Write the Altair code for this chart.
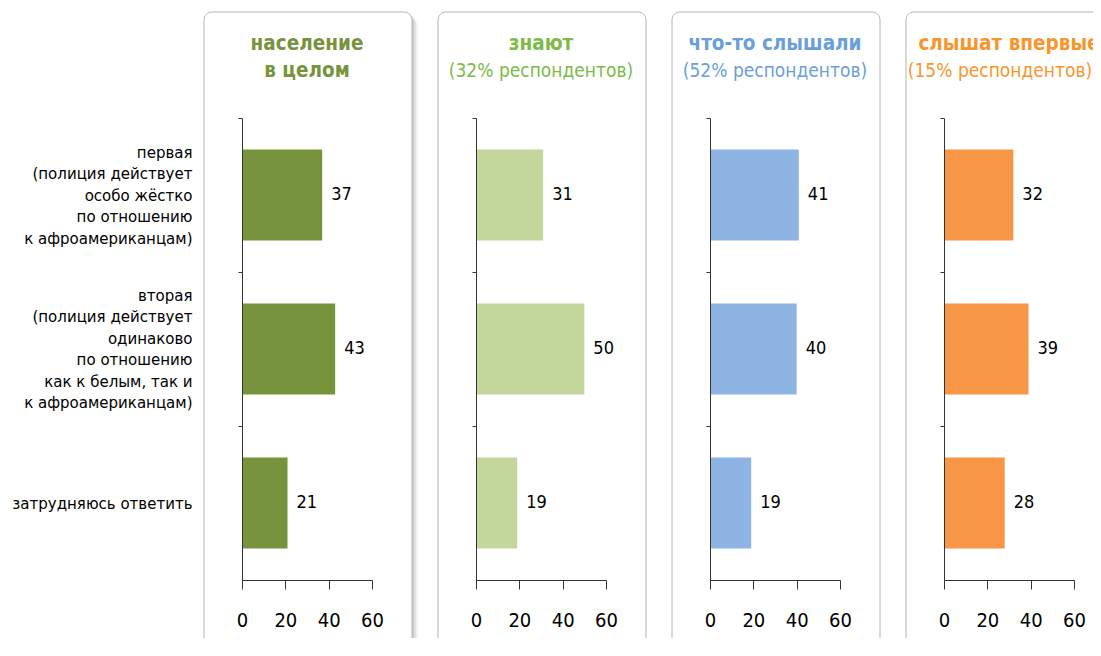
import altair as alt
import pandas as pd

# ---- data ----
categories = [
    "первая\n(полиция действует\nособо жёстко\nпо отношению\nк афроамериканцам)",
    "вторая\n(полиция действует\nодинаково\nпо отношению\nкак к белым, так и\nк афроамериканцам)",
    "затрудняюсь ответить",
]
title_line1 = ["население", "знают", "что-то слышали", "слышат впервые"]
title_line2 = ["в целом", "(32% респондентов)", "(52% респондентов)", "(15% респондентов)"]
line2_bold = [True, False, False, False]
values_total = [37, 43, 21]
values_know = [31, 50, 19]
values_heard = [41, 40, 19]
values_first = [32, 39, 28]
all_values = [values_total, values_know, values_heard, values_first]
x_ticks = [0, 20, 40, 60]

bar_colors = ["#77933c", "#c3d69b", "#8eb4e3", "#f79646"]
title_colors = ["#77933c", "#7cbb46", "#6a9fd8", "#f7962e"]

FONT = "Liberation Sans Narrow, DejaVu Sans Condensed, Roboto, sans-serif"
W, H = 130, 462
STEP = H / 3
LH = 21.5
BOX_TOP = -106
BOX_BOTTOM = 560
PAD_LEFT, PAD_TOP = 234, 110
SVG_W, SVG_H = 1085, 630


def n_lines(s):
    return s.count("\n") + 1


def panel(i):
    df = pd.DataFrame({"cat": categories, "value": all_values[i]})
    show = i == 0
    label_offset = {
        "condition": [
            {"test": "indexof(datum.value, 'первая') == 0",
             "value": STEP / 2 - (n_lines(categories[0]) - 1) * LH / 2},
            {"test": "indexof(datum.value, 'вторая') == 0",
             "value": STEP / 2 - (n_lines(categories[1]) - 1) * LH / 2},
        ],
        "value": STEP / 2,
    }
    axis_kw = dict(
        title=None, labels=show, domainColor="#333", tickColor="#333",
        tickSize=4, tickOffset=-STEP / 2, labelOffset=label_offset,
        labelFont=FONT, labelFontSize=16.7, labelColor="#000",
        labelAlign="right", labelBaseline="middle", labelLineHeight=LH,
        labelPadding=46, labelLimit=400, grid=False, zindex=1,
    )
    if show:
        axis_kw["labelExpr"] = "split(datum.label, '\\n')"
    y = alt.Y("cat:N", sort=categories,
              scale=alt.Scale(paddingInner=0.41, paddingOuter=0.205),
              axis=alt.Axis(**axis_kw))
    x = alt.X("value:Q", scale=alt.Scale(domain=[0, 60], nice=False),
              axis=alt.Axis(title=None, values=x_ticks, grid=False, zindex=1,
                            domainColor="#333", tickColor="#333", tickSize=9,
                            labelFont=FONT, labelFontSize=20, labelColor="#000",
                            labelPadding=21, labelFlush=False))

    one = pd.DataFrame({"line1": [title_line1[i]], "line2": [title_line2[i]]})
    left = -38
    right = 170
    tx1 = W / 2
    tx2 = W / 2 if i < 3 else 56
    layers = []
    if i == 0:
        for k, op in [(6, 0.05), (4, 0.07), (2, 0.09)]:
            layers.append(
                alt.Chart(one).mark_rect(cornerRadius=8, fill="#000", opacity=op)
                .encode(x=alt.value(left + k), x2=alt.value(right + k),
                        y=alt.value(BOX_TOP + k), y2=alt.value(BOX_BOTTOM))
            )
    layers.append(
        alt.Chart(one).mark_rect(cornerRadius=8, fill="white", stroke="#b4b4b4", strokeWidth=1)
        .encode(x=alt.value(left), x2=alt.value(right),
                y=alt.value(BOX_TOP), y2=alt.value(BOX_BOTTOM))
    )
    bars = alt.Chart(df).mark_bar(color=bar_colors[i]).encode(x=x, y=y)
    labels = alt.Chart(df).mark_text(align="left", baseline="middle", dx=9,
                                     font=FONT, fontSize=18, color="#000").encode(
        x="value:Q", y=alt.Y("cat:N", sort=categories), text="value:Q")
    t1 = alt.Chart(one).mark_text(font=FONT, fontSize=20.5, fontWeight="bold",
                                  color=title_colors[i], align="center",
                                  baseline="alphabetic").encode(
        x=alt.value(tx1), y=alt.value(-68), text="line1:N")
    t2 = alt.Chart(one).mark_text(font=FONT, fontSize=20.5 if line2_bold[i] else 19,
                                  fontWeight="bold" if line2_bold[i] else "normal",
                                  color=title_colors[i], align="center",
                                  baseline="alphabetic").encode(
        x=alt.value(tx2), y=alt.value(-41), text="line2:N")
    layers += [bars, labels, t1, t2]
    return alt.layer(*layers).properties(width=W, height=H)


chart = alt.hconcat(
    *[panel(i) for i in range(4)], spacing=104, bounds="flush",
).configure_view(stroke=None).properties(
    autosize="none",
    padding={"left": PAD_LEFT, "top": PAD_TOP, "right": 0,
             "bottom": SVG_H - PAD_TOP - H},
)
chart.params = [
    alt.VariableParameter(name="width", value=SVG_W - PAD_LEFT),
]

chart.save("out.html", embed_options={"renderer": "svg", "actions": False})
